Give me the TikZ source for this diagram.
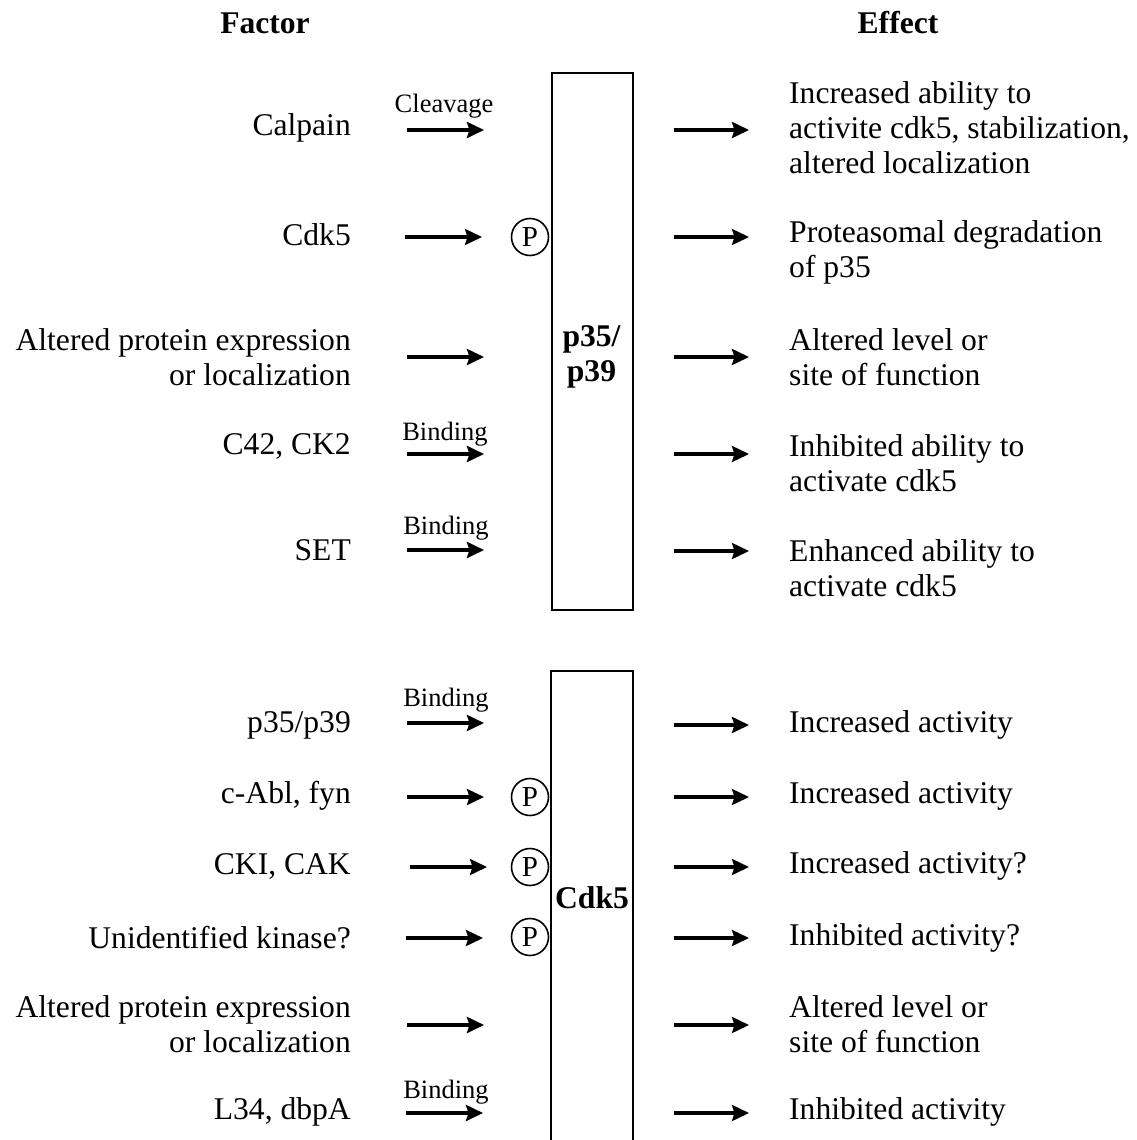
\documentclass[tikz,border=0pt]{standalone}
\usepackage{fontspec}
\setmainfont{Liberation Serif}
\usetikzlibrary{arrows.meta}
\begin{document}
\begin{tikzpicture}[x=1pt,y=-1pt,
 txt/.style={font=\fontsize{31.6}{35}\selectfont, inner sep=0pt},
 lt/.style={txt, anchor=east, align=right},
 rt/.style={txt, anchor=west, align=left},
 hd/.style={inner sep=0pt, font=\fontsize{31.6}{35}\selectfont\bfseries},
 lab/.style={font=\fontsize{26.5}{30}\selectfont, inner sep=0pt},
 arr/.style={line width=3.2pt, -{Stealth[length=17pt,width=16pt,inset=2.5pt]}},
 barr/.style={line width=4pt, -{Stealth[length=17pt,width=16pt,inset=2.5pt]}},
 pc/.style={circle, draw, line width=1.6pt, minimum size=37pt, inner sep=0pt, font=\fontsize{29}{30}\selectfont},
 box/.style={draw, line width=2pt}
]
\useasboundingbox (0,0) rectangle (1136,1140);
% headers
\node[hd] (hf) at (265,23) {Factor};
\node[hd] (he) at (898,23) {Effect};
% box 1
\node[box, minimum width=81pt, minimum height=537pt, anchor=north west, inner sep=0pt] (b1) at (551,72) {};
\node[hd, align=center] (b1t) at (591.5,357) {p35/\\p39};
% box 2
\coordinate (b2bl) at (551,1142);
\coordinate (b2tl) at (551,671);
\coordinate (b2tr) at (633,671);
\coordinate (b2br) at (633,1142);
\draw[line width=2pt] (b2bl) -- (b2tl) -- (b2tr) -- (b2br);
\node[hd] (b2t) at (592,898) {Cdk5};

% ---- top section, left
\node[lt] (f1) at (351,128) {Calpain};
\node[lt] (f2) at (351,235) {Cdk5};
\node[lt] (f3) at (351,357) {Altered protein expression\\or localization};
\node[lt] (f4) at (351,446) {C42, CK2};
\node[lt] (f5) at (351,550) {SET};
% labels
\node[lab] (l1) at (444,106) {Cleavage};
\node[lab] (l4) at (445,434) {Binding};
\node[lab] (l5) at (446,528) {Binding};
% P circle
\node[pc] (p2) at (530,237) {P};
% left arrows
\coordinate (a1s) at (407,130); \coordinate (a1e) at (484,130);
\coordinate (a2s) at (405,237); \coordinate (a2e) at (482,237);
\coordinate (a3s) at (407,357); \coordinate (a3e) at (484,357);
\coordinate (a4s) at (407,454); \coordinate (a4e) at (484,454);
\coordinate (a5s) at (407,550); \coordinate (a5e) at (484,550);
\draw[barr] (a1s) -- (a1e);
\draw[arr] (a2s) -- (a2e);
\draw[barr] (a3s) -- (a3e);
\draw[barr] (a4s) -- (a4e);
\draw[barr] (a5s) -- (a5e);
% right arrows
\foreach \y/\n in {130/r1,237/r2,357/r3,454/r4,551/r5}{
  \coordinate (\n s) at (674,\y); \coordinate (\n e) at (749,\y);
}
\draw[barr] (r1s) -- (r1e);
\draw[arr] (r2s) -- (r2e);
\draw[barr] (r3s) -- (r3e);
\draw[arr] (r4s) -- (r4e);
\draw[arr] (r5s) -- (r5e);
% right texts
\node[rt] (e1) at (789,128) {Increased ability to\\activite cdk5, stabilization,\\altered localization};
\node[rt] (e2) at (789,252) {Proteasomal degradation\\of p35};
\node[rt] (e3) at (789,357) {Altered level or\\site of function};
\node[rt] (e4) at (789,463) {Inhibited ability to\\activate cdk5};
\node[rt] (e5) at (789,568) {Enhanced ability to\\activate cdk5};

% ---- lower section, left
\node[lt] (g1) at (351,725) {p35/p39};
\node[lt] (g2) at (351,796) {c-Abl, fyn};
\node[lt] (g3) at (351,866) {CKI, CAK};
\node[lt] (g4) at (351,938) {Unidentified kinase?};
\node[lt] (g5) at (351,1024) {Altered protein expression\\or localization};
\node[lt] (g6) at (351,1112) {L34, dbpA};
\node[lab] (m1) at (446,700) {Binding};
\node[lab] (m6) at (446,1092) {Binding};
\node[pc] (q2) at (530,797) {P};
\node[pc] (q3) at (530,867) {P};
\node[pc] (q4) at (530,937) {P};
\coordinate (c1s) at (407,723); \coordinate (c1e) at (484,723);
\coordinate (c2s) at (407,797); \coordinate (c2e) at (484,797);
\coordinate (c3s) at (410,867); \coordinate (c3e) at (487,867);
\coordinate (c4s) at (406,938); \coordinate (c4e) at (483,938);
\coordinate (c5s) at (407,1025); \coordinate (c5e) at (484,1025);
\coordinate (c6s) at (406,1113); \coordinate (c6e) at (483,1113);
\draw[barr] (c1s) -- (c1e);
\draw[arr] (c2s) -- (c2e);
\draw[arr] (c3s) -- (c3e);
\draw[arr] (c4s) -- (c4e);
\draw[barr] (c5s) -- (c5e);
\draw[barr] (c6s) -- (c6e);
\foreach \y/\n in {725/s1,797/s2,867/s3,938/s4,1025/s5,1113/s6}{
  \coordinate (\n s) at (674,\y); \coordinate (\n e) at (749,\y);
}
\draw[barr] (s1s) -- (s1e);
\draw[arr] (s2s) -- (s2e);
\draw[arr] (s3s) -- (s3e);
\draw[arr] (s4s) -- (s4e);
\draw[arr] (s5s) -- (s5e);
\draw[arr] (s6s) -- (s6e);
\node[rt] (h1) at (789,725) {Increased activity};
\node[rt] (h2) at (789,796) {Increased activity};
\node[rt] (h3) at (789,866) {Increased activity?};
\node[rt] (h4) at (789,938) {Inhibited activity?};
\node[rt] (h5) at (789,1024) {Altered level or\\site of function};
\node[rt] (h6) at (789,1112) {Inhibited activity};
\end{tikzpicture}
\end{document}
